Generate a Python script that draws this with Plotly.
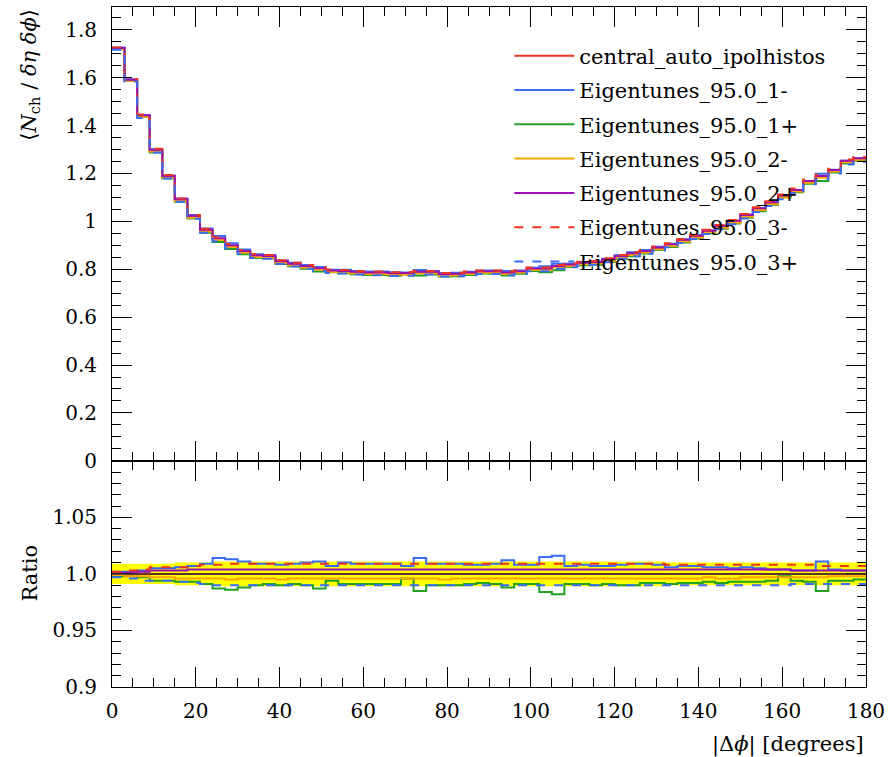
import plotly.graph_objects as go

# ---------------- data ----------------
edges = list(range(0, 181, 3))  # 60 bins of 3 degrees

central = [1.722, 1.590, 1.440, 1.295, 1.186, 1.089, 1.019, 0.961, 0.926, 0.897,
           0.873, 0.855, 0.852, 0.830, 0.820, 0.810, 0.801, 0.792, 0.790, 0.786,
           0.783, 0.783, 0.780, 0.781, 0.786, 0.786, 0.777, 0.778, 0.783, 0.788,
           0.788, 0.783, 0.788, 0.800, 0.800, 0.810, 0.817, 0.824, 0.827, 0.838,
           0.852, 0.863, 0.873, 0.887, 0.901, 0.919, 0.936, 0.957, 0.977, 0.998,
           1.022, 1.050, 1.075, 1.103, 1.128, 1.165, 1.186, 1.211, 1.249, 1.260]

ratio_1m = [1.002, 1.002, 1.003, 1.005, 1.005, 1.006, 1.007, 1.009, 1.014, 1.013,
            1.011, 1.009, 1.009, 1.008, 1.009, 1.010, 1.011, 1.007, 1.010, 1.009,
            1.009, 1.009, 1.009, 1.007, 1.014, 1.009, 1.009, 1.009, 1.008, 1.008,
            1.009, 1.012, 1.008, 1.008, 1.015, 1.016, 1.007, 1.008, 1.007, 1.007,
            1.008, 1.009, 1.009, 1.008, 1.006, 1.007, 1.007, 1.006, 1.006, 1.005,
            1.006, 1.005, 1.004, 1.004, 1.003, 1.003, 1.011, 1.004, 1.003, 1.003]

ratio_1p = [0.998, 0.998, 0.997, 0.994, 0.994, 0.993, 0.993, 0.991, 0.987, 0.986,
            0.988, 0.990, 0.991, 0.990, 0.991, 0.990, 0.987, 0.994, 0.991, 0.991,
            0.991, 0.991, 0.991, 0.996, 0.985, 0.990, 0.990, 0.990, 0.991, 0.992,
            0.991, 0.988, 0.991, 0.991, 0.984, 0.982, 0.991, 0.991, 0.990, 0.991,
            0.990, 0.990, 0.992, 0.992, 0.991, 0.992, 0.992, 0.993, 0.992, 0.993,
            0.993, 0.993, 0.994, 0.998, 0.994, 0.993, 0.985, 0.994, 0.994, 0.995]

ratio_2m = [0.999, 0.998, 0.998, 0.997, 0.997, 0.996, 0.996, 0.996, 0.996, 0.995,
            0.996, 0.996, 0.996, 0.995, 0.996, 0.996, 0.996, 0.996, 0.996, 0.996,
            0.996, 0.996, 0.996, 0.996, 0.996, 0.996, 0.995, 0.996, 0.996, 0.996,
            0.996, 0.996, 0.996, 0.996, 0.996, 0.996, 0.996, 0.996, 0.996, 0.996,
            0.996, 0.996, 0.996, 0.996, 0.996, 0.996, 0.996, 0.997, 0.996, 0.996,
            0.997, 0.997, 0.997, 0.997, 0.997, 0.997, 0.997, 0.998, 0.998, 0.998]

ratio_2p = [1.001, 1.001, 1.002, 1.003, 1.003, 1.003, 1.004, 1.004, 1.004, 1.004,
            1.004, 1.004, 1.004, 1.004, 1.004, 1.004, 1.004, 1.004, 1.004, 1.004,
            1.004, 1.004, 1.004, 1.004, 1.004, 1.004, 1.004, 1.004, 1.004, 1.004,
            1.004, 1.004, 1.004, 1.004, 1.004, 1.004, 1.004, 1.004, 1.004, 1.004,
            1.004, 1.004, 1.004, 1.004, 1.004, 1.004, 1.004, 1.004, 1.004, 1.004,
            1.004, 1.004, 1.004, 1.004, 1.003, 1.003, 1.003, 1.003, 1.003, 1.003]

ratio_3m = [1.002, 1.003, 1.004, 1.006, 1.006, 1.006, 1.007, 1.008, 1.008, 1.009,
            1.009, 1.009, 1.009, 1.009, 1.009, 1.009, 1.009, 1.009, 1.009, 1.009,
            1.009, 1.009, 1.009, 1.009, 1.009, 1.009, 1.009, 1.009, 1.009, 1.009,
            1.009, 1.009, 1.009, 1.009, 1.009, 1.009, 1.009, 1.009, 1.009, 1.009,
            1.009, 1.009, 1.009, 1.009, 1.008, 1.008, 1.008, 1.008, 1.008, 1.008,
            1.008, 1.008, 1.008, 1.008, 1.008, 1.008, 1.007, 1.007, 1.007, 1.007]

ratio_3p = [0.997, 0.996, 0.994, 0.994, 0.994, 0.993, 0.992, 0.991, 0.990, 0.990,
            0.990, 0.990, 0.990, 0.990, 0.990, 0.990, 0.990, 0.990, 0.990, 0.990,
            0.990, 0.990, 0.990, 0.990, 0.990, 0.990, 0.990, 0.990, 0.990, 0.990,
            0.990, 0.990, 0.990, 0.990, 0.990, 0.990, 0.990, 0.990, 0.990, 0.990,
            0.990, 0.990, 0.990, 0.990, 0.990, 0.990, 0.990, 0.990, 0.990, 0.990,
            0.990, 0.990, 0.990, 0.990, 0.991, 0.991, 0.991, 0.991, 0.991, 0.991]

band_halfwidth = [0.009, 0.009, 0.009, 0.009, 0.009, 0.010, 0.010, 0.010, 0.011, 0.011,
                  0.011, 0.011, 0.011, 0.011, 0.011, 0.011, 0.011, 0.011, 0.011, 0.011,
                  0.011, 0.011, 0.011, 0.011, 0.011, 0.011, 0.011, 0.011, 0.011, 0.011,
                  0.011, 0.011, 0.011, 0.011, 0.011, 0.011, 0.011, 0.011, 0.011, 0.011,
                  0.011, 0.011, 0.011, 0.011, 0.010, 0.010, 0.010, 0.010, 0.010, 0.010,
                  0.010, 0.010, 0.010, 0.010, 0.010, 0.010, 0.010, 0.010, 0.010, 0.010]

names = ["central_auto_ipolhistos", "Eigentunes_95.0_1-", "Eigentunes_95.0_1+",
         "Eigentunes_95.0_2-", "Eigentunes_95.0_2+", "Eigentunes_95.0_3-",
         "Eigentunes_95.0_3+"]
ratios = [[1.0] * 60, ratio_1m, ratio_1p, ratio_2m, ratio_2p, ratio_3m, ratio_3p]
colors = ["#ee3322", "#3a6cf5", "#22a022", "#ffa500", "#9a10b0", "#ee3322", "#3a6cf5"]
dashes = ["solid", "solid", "solid", "solid", "solid", "dash", "dash"]

# ---------------- figure ----------------
fig = go.Figure()

def closed(vals):
    return list(vals) + [vals[-1]]

# yellow band in ratio panel
lower = [1 - h for h in band_halfwidth]
upper = [1 + h for h in band_halfwidth]
fig.add_trace(go.Scatter(x=edges, y=closed(lower), mode="lines", line=dict(width=0, shape="hv"),
                         xaxis="x2", yaxis="y2", showlegend=False, hoverinfo="skip"))
fig.add_trace(go.Scatter(x=edges, y=closed(upper), mode="lines", line=dict(width=0, shape="hv"),
                         fill="tonexty", fillcolor="#ffff00",
                         xaxis="x2", yaxis="y2", showlegend=False, hoverinfo="skip"))

for i, (name, r, c, d) in enumerate(zip(names, ratios, colors, dashes)):
    main_vals = [cv * rv for cv, rv in zip(central, r)]
    fig.add_trace(go.Scatter(x=edges, y=closed(main_vals), mode="lines", name=name,
                             line=dict(color=c, width=2, dash=d, shape="hv"),
                             legendgroup=f"g{i}", xaxis="x", yaxis="y"))
    fig.add_trace(go.Scatter(x=edges, y=closed(r), mode="lines", name=name,
                             line=dict(color=c, width=2, dash=d, shape="hv"),
                             legendgroup=f"g{i}", showlegend=False, xaxis="x2", yaxis="y2"))

FONT = "DejaVu Serif"
split = 0.3326

common_x = dict(range=[0, 180], tickvals=list(range(0, 181, 20)), ticks="inside", ticklen=20,
                tickcolor="black", minor=dict(ticks="inside", dtick=5, ticklen=9, tickcolor="black"),
                showline=True, linecolor="black", linewidth=1, mirror="allticks",
                showgrid=False, zeroline=False)

fig.update_layout(
    width=891, height=757,
    margin=dict(l=112, r=25, t=7, b=70),
    paper_bgcolor="white", plot_bgcolor="white",
    font=dict(family=FONT, size=20, color="black"),
    xaxis=dict(anchor="y", domain=[0, 1], showticklabels=False, matches="x2", **common_x),
    xaxis2=dict(anchor="y2", domain=[0, 1], showticklabels=True, ticklabelstandoff=6,
                tickfont=dict(size=20), **common_x),
    yaxis=dict(domain=[split, 1], range=[0, 1.895], anchor="x",
               tickvals=[0, 0.2, 0.4, 0.6, 0.8, 1.0, 1.2, 1.4, 1.6, 1.8],
               ticktext=["0", "0.2", "0.4", "0.6", "0.8", "1", "1.2", "1.4", "1.6", "1.8"],
               ticks="inside", ticklen=20, tickcolor="black", ticklabelstandoff=10,
               tickfont=dict(size=20),
               minor=dict(ticks="inside", dtick=0.05, ticklen=9, tickcolor="black"),
               showline=True, linecolor="black", linewidth=1, mirror="allticks",
               showgrid=False, zeroline=False),
    yaxis2=dict(domain=[0, split], range=[0.9, 1.1], anchor="x2",
                tickvals=[0.9, 0.95, 1.0, 1.05], ticktext=["0.9", "0.95", "1.0", "1.05"],
                ticks="inside", ticklen=20, tickcolor="black", ticklabelstandoff=10,
                tickfont=dict(size=20),
                minor=dict(ticks="inside", dtick=0.01, ticklen=9, tickcolor="black"),
                showline=True, linecolor="black", linewidth=1, mirror="allticks",
                showgrid=False, zeroline=False),
    legend=dict(x=0.527, y=0.958, xanchor="left", yanchor="top", bgcolor="rgba(0,0,0,0)",
                font=dict(family=FONT, size=21), itemwidth=60, tracegroupgap=4),
    shapes=[dict(type="line", xref="x2", yref="y2", x0=0, x1=180, y0=1, y1=1,
                 line=dict(color="#333333", width=1.5), layer="above")],
    annotations=[
        dict(text="⟨<i>N</i><sub>ch</sub> / <i>δη</i> <i>δϕ</i>⟩", xref="paper", yref="paper",
             x=-0.109, y=1.0, xanchor="center", yanchor="top", textangle=-90,
             showarrow=False, font=dict(family=FONT, size=21)),
        dict(text="Ratio", xref="paper", yref="paper", x=-0.109, y=0.168,
             xanchor="center", yanchor="middle", textangle=-90, showarrow=False,
             font=dict(family=FONT, size=21)),
        dict(text="|Δ<i>ϕ</i>| [degrees]", xref="paper", yref="paper", x=1.0, y=-0.085,
             xanchor="right", yanchor="middle", showarrow=False,
             font=dict(family=FONT, size=21)),
    ],
)

fig.write_html("out.html", config={"displayModeBar": False},
               post_script="document.body.style.margin='0px';")
